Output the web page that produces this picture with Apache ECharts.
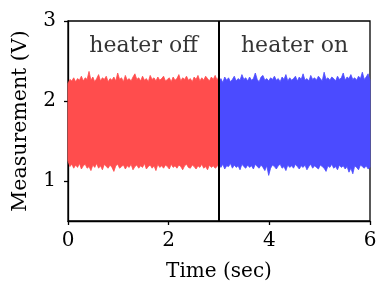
<!DOCTYPE html>
<html><head><meta charset="utf-8">
<script src="https://cdn.jsdelivr.net/npm/echarts@6/dist/echarts.min.js"></script>
<style>html,body{margin:0;padding:0;background:#fff}#c{width:390px;height:297px}</style>
</head><body><div id="c"></div>
<script>
const redHi = [2.22,2.27,2.25,2.29,2.24,2.28,2.26,2.31,2.25,2.29,
               2.27,2.37,2.26,2.30,2.24,2.28,2.33,2.25,2.29,2.27,
               2.31,2.24,2.28,2.26,2.30,2.25,2.35,2.27,2.29,2.24,
               2.32,2.26,2.28,2.25,2.30,2.34,2.27,2.29,2.25,2.31,
               2.26,2.28,2.24,2.32,2.27,2.29,2.25,2.30,2.26,2.28,
               2.31,2.25,2.27,2.29,2.24,2.30,2.26,2.28,2.33,2.25,
               2.29,2.27,2.31,2.26,2.28,2.24,2.30,2.27,2.32,2.25,
               2.29,2.26,2.31,2.28,2.25,2.30,2.27,2.32,2.26,2.31];
const redLo = [1.25,1.18,1.21,1.16,1.20,1.17,1.22,1.15,1.19,1.21,
               1.16,1.18,1.13,1.20,1.17,1.22,1.16,1.19,1.14,1.21,
               1.18,1.16,1.20,1.17,1.12,1.19,1.21,1.16,1.18,1.20,
               1.15,1.19,1.17,1.21,1.14,1.18,1.20,1.16,1.19,1.17,
               1.22,1.15,1.18,1.20,1.16,1.19,1.13,1.21,1.17,1.19,
               1.16,1.20,1.18,1.15,1.21,1.17,1.19,1.16,1.20,1.18,
               1.14,1.19,1.21,1.17,1.16,1.20,1.18,1.15,1.19,1.17,
               1.21,1.16,1.18,1.14,1.20,1.17,1.19,1.16,1.18,1.22];
const blueHi = [2.25,2.28,2.23,2.30,2.26,2.29,2.24,2.27,2.31,2.25,
                2.28,2.26,2.33,2.27,2.29,2.25,2.30,2.26,2.28,2.35,
                2.27,2.24,2.30,2.32,2.26,2.28,2.25,2.29,2.27,2.31,
                2.26,2.28,2.24,2.30,2.27,2.33,2.25,2.29,2.26,2.28,
                2.31,2.25,2.30,2.27,2.34,2.26,2.28,2.25,2.32,2.27,
                2.29,2.26,2.31,2.28,2.25,2.36,2.27,2.29,2.26,2.30,
                2.28,2.25,2.31,2.27,2.29,2.35,2.26,2.30,2.28,2.33,
                2.27,2.29,2.26,2.31,2.28,2.36,2.27,2.30,2.34,2.26];
const blueLo = [1.20,1.17,1.21,1.15,1.19,1.18,1.22,1.16,1.20,1.17,
                1.19,1.14,1.21,1.18,1.16,1.20,1.17,1.19,1.15,1.21,
                1.18,1.16,1.20,1.17,1.13,1.19,1.07,1.16,1.20,1.18,
                1.15,1.19,1.21,1.16,1.18,1.13,1.20,1.17,1.19,1.16,
                1.21,1.18,1.15,1.19,1.17,1.20,1.14,1.18,1.21,1.16,
                1.19,1.17,1.15,1.20,1.18,1.16,1.12,1.19,1.17,1.21,
                1.16,1.18,1.14,1.20,1.17,1.19,1.15,1.18,1.11,1.16,
                1.09,1.19,1.17,1.14,1.20,1.18,1.16,1.19,1.15,1.17];
const redStart = 0, redEnd = 3, blueStart = 3, blueEnd = 6;
const switchTime = 3;
const labels = [[1.5, 2.69, 'heater off'], [4.5, 2.69, 'heater on']];
const yTicks = [1, 2, 3];

function times(a, b, n) { const t = []; for (let i = 0; i < n; i++) t.push(a + (b - a) * i / (n - 1)); return t; }
const tr = times(redStart, redEnd, redHi.length);
const tb = times(blueStart, blueEnd, blueHi.length);

const font = 'DejaVu Serif';
const RED = '#ff4d4d', BLUE = '#4b4bff';
const bands = [
  { t: tr, lo: redLo, hi: redHi, color: RED },
  { t: tb, lo: blueLo, hi: blueHi, color: BLUE }
];
function bandSeries(b) {
  // one data row per sample: [time, low, high]
  const data = b.t.map((x, i) => [x, b.lo[i], b.hi[i]]);
  return {
    type: 'custom', silent: true, z: 2, data: data,
    encode: { x: 0, y: [1, 2] },
    renderItem: function (params, api) {
      if (params.dataIndex !== 0) return null;
      const pts = [];
      for (let i = 0; i < data.length; i++) pts.push(api.coord([data[i][0], data[i][2]]));
      for (let i = data.length - 1; i >= 0; i--) pts.push(api.coord([data[i][0], data[i][1]]));
      return { type: 'polygon', shape: { points: pts },
        style: { fill: b.color, stroke: b.color, lineWidth: 0.8 } };
    }
  };
}
const chart = echarts.init(document.getElementById('c'), null, { renderer: 'canvas' });
chart.setOption({
  animation: false,
  textStyle: { fontFamily: font },
  grid: { left: 68, right: 20, top: 21, bottom: 76, show: true, borderColor: '#000', borderWidth: 1.3, backgroundColor: '#fff' },
  xAxis: {
    type: 'value', min: 0, max: 6, interval: 2,
    name: 'Time (sec)', nameLocation: 'middle', nameGap: 41,
    nameTextStyle: { fontFamily: font, fontSize: 20, color: '#000' },
    axisLine: { lineStyle: { color: '#000', width: 1.3 } },
    axisTick: { show: true, length: 4, lineStyle: { color: '#000', width: 1.3 } },
    axisLabel: { fontFamily: font, fontSize: 20, color: '#000', margin: 10 },
    splitLine: { show: false }
  },
  yAxis: {
    type: 'value', min: 0.5, max: 3, interval: 0.5,
    name: 'Measurement (V)', nameLocation: 'middle', nameGap: 37,
    nameTextStyle: { fontFamily: font, fontSize: 20.5, color: '#000' },
    axisLine: { show: true, lineStyle: { color: '#000', width: 1.3 } },
    axisTick: { show: true, length: 4, lineStyle: { color: '#000', width: 1.3 },
      customValues: yTicks },
    axisLabel: { fontFamily: font, fontSize: 20, color: '#000', margin: 12,
      customValues: yTicks,
      formatter: v => yTicks.includes(v) ? String(v) : '' },
    splitLine: { show: false }
  },
  series: [
    ...bands.map(bandSeries),
    { type: 'scatter', data: labels, symbolSize: 0, silent: true, z: 5,
      label: { show: true, position: 'inside', formatter: p => p.data[2],
        fontFamily: font, fontSize: 22, color: '#000' },
      markLine: { silent: true, symbol: 'none', label: { show: false },
        lineStyle: { color: '#000', width: 2, type: 'solid' },
        data: [{ xAxis: switchTime }] } }
  ]
});
</script></body></html>
